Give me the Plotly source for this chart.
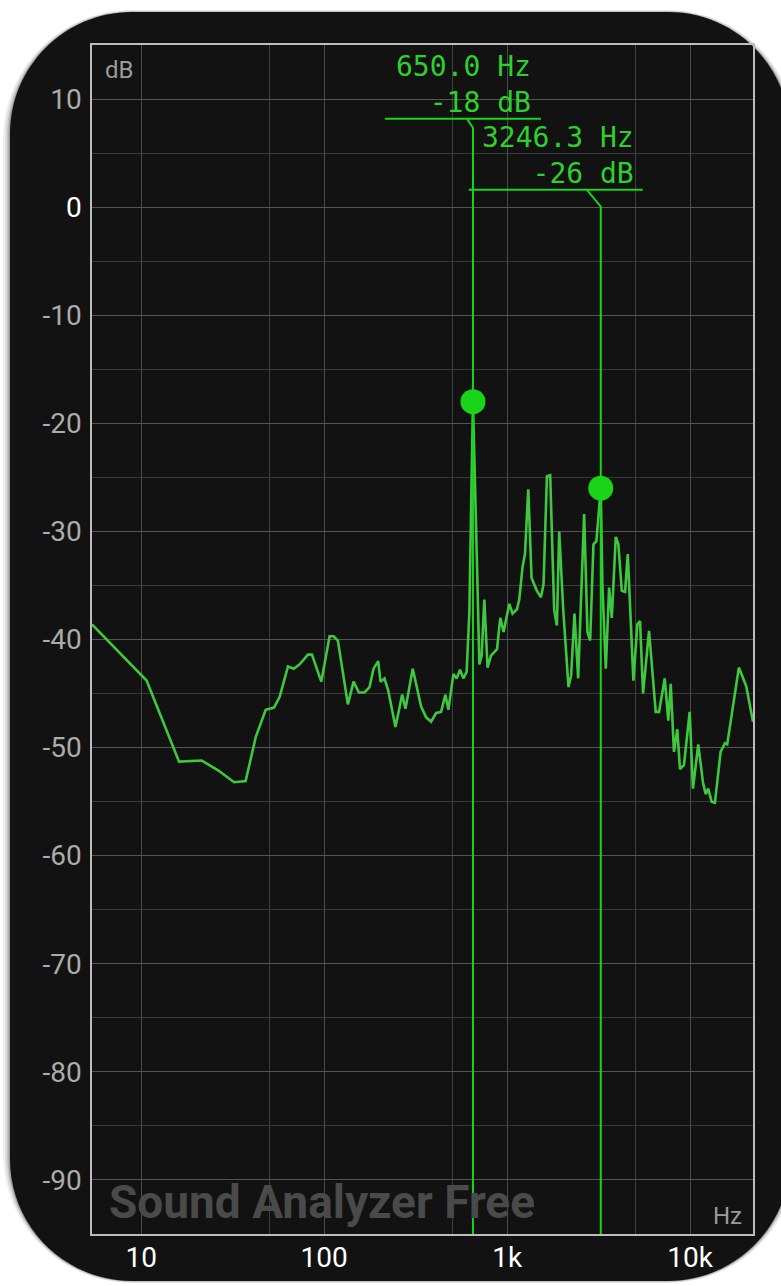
import math
import plotly.graph_objects as go

# ---------------- data ----------------
freq_hz = [5.38, 10.7, 16.1, 21.4, 26.3, 32.2, 37.2, 42.3, 47.9, 53.2, 57.1, 63.4, 68.1, 73.4,
           81.5, 85.7, 96.4, 107.0, 112.5, 118.8, 134.7, 144.7, 154.7, 166.1, 176.9, 186.0,
           197.3, 203.1, 213.5, 223.7, 245.2, 266.8, 278.1, 304.7, 338.6, 360.6, 384.0, 408.9,
           435.5, 459.6, 477.2, 508.2, 529.7, 552.7, 576.1, 600.5, 621.2, 650.0, 684.3, 704.4,
           725.0, 749.9, 781.6, 815.8, 879.7, 916.9, 955.7, 1027, 1070, 1131, 1164, 1213, 1251,
           1304, 1359, 1454, 1529, 1580, 1649, 1718, 1807, 1869, 1924, 2024, 2163, 2237, 2332,
           2443, 2634, 2746, 2841, 2961, 3074, 3246.3, 3315, 3459, 3606, 3730, 3922, 4052, 4230,
           4409, 4560, 4894, 5145, 5322, 5527, 5960, 6483, 6758, 7261, 7597, 7830, 8158, 8503,
           8797, 9252, 9938, 10359, 11071, 11744, 12150, 12552, 13101, 13655, 14669, 15485,
           15937, 18458, 19411, 20231, 22050]
level_db = [-38.6, -43.8, -51.3, -51.2, -52.1, -53.2, -53.1, -49.0, -46.5, -46.3, -45.3, -42.5,
            -42.7, -42.3, -41.4, -41.4, -43.9, -39.7, -39.7, -40.1, -46.0, -43.9, -44.9, -44.9,
            -44.4, -42.7, -42.0, -43.9, -43.6, -44.7, -48.1, -45.1, -46.4, -42.7, -46.2, -47.2,
            -47.6, -46.8, -46.7, -45.1, -46.5, -43.2, -43.6, -42.8, -43.6, -43.0, -37.5, -18.0,
            -33.2, -42.3, -41.5, -36.3, -42.6, -41.5, -40.9, -38.0, -39.3, -36.7, -37.6, -37.2,
            -36.3, -33.3, -32.1, -26.1, -34.3, -35.5, -36.1, -34.9, -24.9, -24.8, -37.3, -38.7,
            -30.0, -37.2, -44.4, -43.3, -37.6, -43.6, -28.4, -39.3, -40.1, -31.2, -30.9, -26.0,
            -35.0, -42.7, -35.2, -38.0, -30.5, -31.2, -35.5, -35.6, -32.1, -43.8, -38.6, -38.3,
            -45.0, -39.2, -46.7, -46.7, -43.6, -47.5, -44.1, -50.4, -48.3, -52.0, -51.6, -46.7,
            -53.8, -49.7, -53.2, -54.3, -53.8, -55.0, -55.1, -50.4, -49.6, -49.7, -42.6, -43.6,
            -44.3, -47.6]
assert len(freq_hz) == len(level_db)

marker_freq = [650.0, 3246.3]
marker_db = [-18, -26]
marker_label_freq = ["650.0 Hz", "3246.3 Hz"]
marker_label_db = ["-18 dB", "-26 dB"]

x_tick_vals = [10, 100, 1000, 10000]
x_tick_text = ["10", "100", "1k", "10k"]
x_minor_vals = [50, 500, 5000]
y_tick_vals = [10, 0, -10, -20, -30, -40, -50, -60, -70, -80, -90]
y_tick_text = ["10", "0", "-10", "-20", "-30", "-40", "-50", "-60", "-70", "-80", "-90"]

# ---------------- layout geometry ----------------
W, H = 781, 1286
L, R, T, B = 92, 753, 45, 1237
XR = [math.log10(5.383), math.log10(22050)]
YR = [-95, 15]

def px2fx(px):
    return (px - L) / (R - L)

def py2fy(py):
    return (B - py) / (B - T)

def f2px(f):
    return L + (math.log10(f) - XR[0]) / (XR[1] - XR[0]) * (R - L)

def px2f(px):
    return 10 ** (XR[0] + (px - L) / (R - L) * (XR[1] - XR[0]))

def py2db(py):
    return YR[1] - (py - T) / (B - T) * (YR[1] - YR[0])

def rounded_rect_path(x0, y0, x1, y1, r):
    k = 0.5523 * r
    def P(x, y):
        return f"{px2fx(x):.5f},{py2fy(y):.5f}"
    s = f"M {P(x0 + r, y0)} L {P(x1 - r, y0)} "
    s += f"C {P(x1 - r + k, y0)} {P(x1, y0 + r - k)} {P(x1, y0 + r)} "
    s += f"L {P(x1, y1 - r)} "
    s += f"C {P(x1, y1 - r + k)} {P(x1 - r + k, y1)} {P(x1 - r, y1)} "
    s += f"L {P(x0 + r, y1)} "
    s += f"C {P(x0 + r - k, y1)} {P(x0, y1 - r + k)} {P(x0, y1 - r)} "
    s += f"L {P(x0, y0 + r)} "
    s += f"C {P(x0, y0 + r - k)} {P(x0 + r - k, y0)} {P(x0 + r, y0)} Z"
    return s

CURVE = "#3fc83f"
MARK = "#19d419"
TXT = "#2fcf2f"
BG = "#121212"

fig = go.Figure()

# spectrum curve
fig.add_trace(go.Scatter(x=freq_hz, y=level_db, mode="lines",
                         line=dict(color=CURVE, width=2.6), hoverinfo="skip", showlegend=False))

# marker lines + label brackets (pixel offsets relative to each marker)
bracket = [
    dict(corner=128, dx=-6, hy=119, hl=-88, hr=68, tr=60, tc=85),
    dict(corner=207, dx=-14, hy=190, hl=-132, hr=42, tr=35, tc=156),
]
annotations = []
for i, f in enumerate(marker_freq):
    b = bracket[i]
    px = f2px(f)
    xs = [f, f, px2f(px + b["dx"]), None, px2f(px + b["hl"]), px2f(px + b["hr"])]
    ys = [YR[0], py2db(b["corner"]), py2db(b["hy"]), None, py2db(b["hy"]), py2db(b["hy"])]
    fig.add_trace(go.Scatter(x=xs, y=ys, mode="lines", line=dict(color=MARK, width=2),
                             hoverinfo="skip", showlegend=False, cliponaxis=False))
    annotations.append(dict(xref="paper", yref="paper", x=px2fx(px + b["tr"]), y=py2fy(b["tc"]),
                            xanchor="right", yanchor="middle", align="right", showarrow=False,
                            text=f"{marker_label_freq[i]}<br>{marker_label_db[i]}",
                            font=dict(family="DejaVu Sans Mono", size=28, color=TXT)))

fig.add_trace(go.Scatter(x=marker_freq, y=marker_db, mode="markers",
                         marker=dict(color=MARK, size=25, line=dict(width=0)),
                         hoverinfo="skip", showlegend=False))

# labels inside plot
annotations.append(dict(xref="paper", yref="paper", x=px2fx(103), y=py2fy(70), xanchor="left",
                        yanchor="middle", showarrow=False, text="dB",
                        font=dict(family="Roboto", size=24, color="#9a9a9a")))
annotations.append(dict(xref="paper", yref="paper", x=px2fx(744), y=py2fy(1219), xanchor="right",
                        yanchor="middle", showarrow=False, text="Hz",
                        font=dict(family="Roboto", size=24, color="#9a9a9a")))
annotations.append(dict(xref="paper", yref="paper", x=px2fx(107), y=py2fy(1205), xanchor="left",
                        yanchor="middle", showarrow=False, text="<b>Sound Analyzer Free</b>",
                        font=dict(family="Roboto", size=46, color="#4a4a4a")))

# device frame + shadow
shapes = []
for off, op in ((7, 0.06), (5, 0.08), (3, 0.12), (1.5, 0.18)):
    shapes.append(dict(type="path", xref="paper", yref="paper", layer="below",
                       path=rounded_rect_path(10 - off, 12 - off * 0.3, 790 + off, 1284 + off * 0.3, 122 + off),
                       fillcolor=f"rgba(0,0,0,{op})", line=dict(width=0)))
shapes.append(dict(type="path", xref="paper", yref="paper", layer="below",
                   path=rounded_rect_path(10, 12, 790, 1284, 122),
                   fillcolor=BG, line=dict(width=0)))

ytext = [f'<span style="color:#ffffff">{t}</span>' if t == "0" else t for t in y_tick_text]

fig.update_layout(
    width=W, height=H,
    margin=dict(l=L, r=W - R, t=T, b=H - B, pad=0),
    paper_bgcolor="#ffffff",
    plot_bgcolor="rgba(0,0,0,0)",
    shapes=shapes,
    annotations=annotations,
    showlegend=False,
    xaxis=dict(type="log", range=XR, tickmode="array", tickvals=x_tick_vals, ticktext=x_tick_text,
               showgrid=True, gridcolor="#4c4c4c", gridwidth=1,
               minor=dict(tickmode="array", tickvals=x_minor_vals, showgrid=True,
                          gridcolor="#3e3e3e", gridwidth=1, ticks=""),
               ticks="", ticklabelstandoff=-2,
               tickfont=dict(family="Roboto", size=28, color="#ffffff"),
               showline=True, mirror=True, linecolor="#bdbdbd", linewidth=1.5, zeroline=False),
    yaxis=dict(range=YR, tickmode="array", tickvals=y_tick_vals, ticktext=ytext,
               showgrid=True, gridcolor="#555555", gridwidth=1,
               minor=dict(dtick=5, showgrid=True, gridcolor="#383838", gridwidth=1, ticks=""),
               ticks="outside", ticklen=3, tickcolor="rgba(0,0,0,0)",
               tickfont=dict(family="Roboto", size=28, color="#ababab"),
               showline=True, mirror=True, linecolor="#bdbdbd", linewidth=1.5, zeroline=False),
)

post = ("document.body.style.margin='0';document.body.style.padding='0';"
        "document.documentElement.style.overflow='hidden';document.body.style.overflow='hidden';")
fig.write_html("out.html", config={"displayModeBar": False}, post_script=post)
